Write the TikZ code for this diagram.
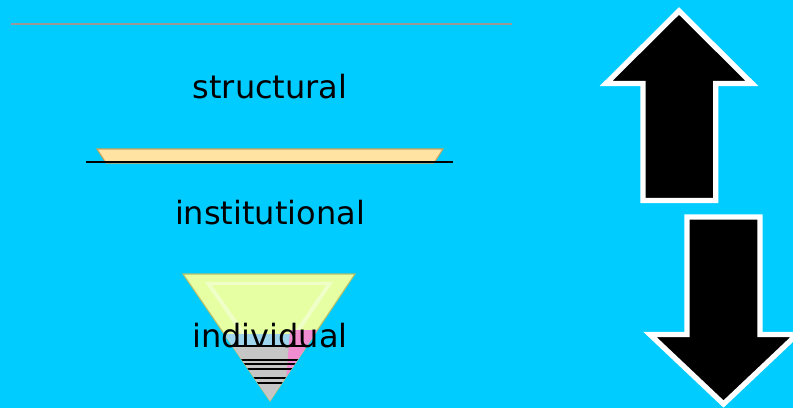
\documentclass[tikz,border=0pt]{standalone}
\usepackage{fontspec}
\setmainfont{DejaVu Sans}
\usepackage{tikz}
\usetikzlibrary{positioning}

\definecolor{skyback}{HTML}{00CCFF}
\definecolor{trapfill}{HTML}{FFE3A3}
\definecolor{trapedge}{HTML}{C9A45C}
\definecolor{trifill}{HTML}{E6FFA3}
\definecolor{triedge}{HTML}{B5BF6A}
\definecolor{tripink}{HTML}{F08CD0}
\definecolor{triblue}{HTML}{9FD6EE}

\begin{document}
\begin{tikzpicture}[x=0.75pt, y=-0.75pt,
lvl/.style={font=\fontsize{24}{28}\selectfont, inner sep=0, text=black},
bigarrow/.style={draw=white, line width=4pt, fill=black, line join=miter},
stripe/.style={black, line width=1.2pt}
]
\useasboundingbox (0,0) rectangle (793,408);
\clip (0,0) rectangle (793,408);
\fill[skyback] (0,0) rectangle (793,408);

\draw[gray!80, line width=1.6pt] (11,24) -- (512,24);

% upper band
\draw[trapedge, fill=trapfill, line width=0.8pt] (97,149) -- (443,149) -- (434,163) -- (106,163) -- cycle;
\draw[line width=0.8pt] (86,162) -- (453,162);

% lower triangle
\draw[triedge, fill=trifill, line width=0.8pt] (183,274) -- (355,274) -- (270,401) -- cycle;
\begin{scope}
\clip (183,274) -- (355,274) -- (270,401) -- cycle;
\fill[white!40!trifill] (205,282) -- (333,282) -- (270,376) -- cycle;
\fill[trifill] (212,285) -- (326,285) -- (270,368) -- cycle;
\fill[triblue] (150,334) rectangle (400,346);
\fill[gray!45] (150,346) rectangle (400,410);
\fill[tripink] (290,330) -- (320,330) -- (300,382) -- (286,382) -- cycle;
\foreach \y in {346,360,364,369,378,383}
  \draw[stripe] (150,\y) -- (400,\y);
\end{scope}

\node[lvl] (struct) at (270,87) {structural};
\node[lvl] (inst) at (270,213) {institutional};
\node[lvl] (indiv) at (270,336) {individual};

% arrows on the right
\draw[bigarrow] (679,11) -- (752,83.5) -- (715.7,83.5) -- (715.7,200.5) -- (643,200.5) -- (643,83.5) -- (606,83.5) -- cycle;
\draw[bigarrow] (687,217) -- (760,217) -- (760,334.5) -- (797,334.5) -- (723.5,404) -- (650,334.5) -- (687,334.5) -- cycle;
\end{tikzpicture}
\end{document}
